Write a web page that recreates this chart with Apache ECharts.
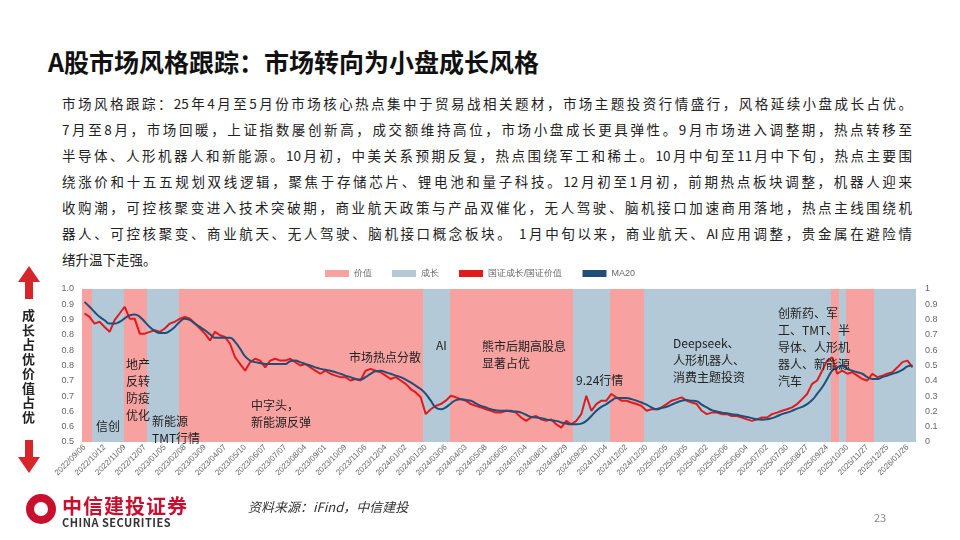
<!DOCTYPE html>
<html>
<head>
<meta charset="utf-8">
<script src="https://cdn.jsdelivr.net/npm/echarts@6/dist/echarts.min.js"></script>
<style>
  body { margin: 0; width: 960px; height: 540px; overflow: hidden; background: #fff;
         font-family: "Noto Sans CJK SC", sans-serif; position: relative; }
  .title { position: absolute; left: 48px; top: 43px; font-size: 25px; font-weight: bold; color: #111; }
  .para { position: absolute; left: 62px; top: 90px; width: 850px; font-size: 13.5px; color: #222; }
  .para div { height: 26px; line-height: 26px; text-align: justify; text-align-last: justify; }
  .para div.last { text-align-last: left; }
  #chart { position: absolute; left: 0; top: 0; width: 960px; height: 540px; }
  .up { position: absolute; left: 18px; top: 266px; width: 0; height: 0;
        border-left: 11px solid transparent; border-right: 11px solid transparent; border-bottom: 16px solid #d7262b; }
  .upbar { position: absolute; left: 25px; top: 281px; width: 8px; height: 18px; background: #d7262b; }
  .dnbar { position: absolute; left: 25px; top: 440px; width: 8px; height: 18px; background: #d7262b; }
  .dn { position: absolute; left: 18px; top: 457px; width: 0; height: 0;
        border-left: 11px solid transparent; border-right: 11px solid transparent; border-top: 16px solid #d7262b; }
  .vtxt { position: absolute; left: 22px; top: 308px; width: 14px; font-size: 13px; font-weight: bold;
          line-height: 14.5px; color: #222; word-break: break-all; }
  .logo { position: absolute; left: 26px; top: 494px; width: 30px; height: 30px; border-radius: 50%;
          background: #c8102e; }
  .logo::after { content: ""; position: absolute; left: 8px; top: 8px; width: 14px; height: 14px;
          border-radius: 50%; background: #fff; }
  .brand { position: absolute; left: 62px; top: 491px; font-size: 20px; font-weight: bold; color: #c8102e; letter-spacing: 1px; }
  .brand-en { position: absolute; left: 62px; top: 514px; font-size: 11px; font-weight: bold; color: #333; letter-spacing: 0.5px; }
  .src { position: absolute; left: 248px; top: 497px; font-size: 13px; font-style: italic; color: #333; }
  .page { position: absolute; left: 874px; top: 509px; font-size: 11px; color: #888; }
</style>
</head>
<body>
<div class="title">A股市场风格跟踪：市场转向为小盘成长风格</div>
<div class="para">
  <div>市场风格跟踪：25年4月至5月份市场核心热点集中于贸易战相关题材，市场主题投资行情盛行，风格延续小盘成长占优。</div>
  <div>7月至8月，市场回暖，上证指数屡创新高，成交额维持高位，市场小盘成长更具弹性。9月市场进入调整期，热点转移至</div>
  <div>半导体、人形机器人和新能源。10月初，中美关系预期反复，热点围绕军工和稀土。10月中旬至11月中下旬，热点主要围</div>
  <div>绕涨价和十五五规划双线逻辑，聚焦于存储芯片、锂电池和量子科技。12月初至1月初，前期热点板块调整，机器人迎来</div>
  <div>收购潮，可控核聚变进入技术突破期，商业航天政策与产品双催化，无人驾驶、脑机接口加速商用落地，热点主线围绕机</div>
  <div>器人、可控核聚变、商业航天、无人驾驶、脑机接口概念板块。 1月中旬以来，商业航天、AI应用调整，贵金属在避险情</div>
  <div class="last">绪升温下走强。</div>
</div>
<div id="chart"></div>
<div class="up"></div><div class="upbar"></div>
<div class="vtxt">成长占优 价值占优</div>
<div class="dnbar"></div><div class="dn"></div>
<div class="logo"></div>
<div class="brand">中信建投证券</div>
<div class="brand-en">CHINA SECURITIES</div>
<div class="src">资料来源：iFind，中信建投</div>
<div class="page">23</div>
<script>
// tick labels, one every 4 points (each point ~ 5 trading days)
const tickLabels = ["2022/09/06","2022/10/12","2022/11/09","2022/12/07","2023/01/05","2023/02/08","2023/03/09",
  "2023/04/07","2023/05/10","2023/06/07","2023/07/07","2023/08/04","2023/09/01","2023/10/09","2023/11/06",
  "2023/12/04","2024/01/02","2024/01/30","2024/03/06","2024/04/03","2024/05/08","2024/06/05","2024/07/04",
  "2024/08/01","2024/08/29","2024/09/30","2024/11/04","2024/12/02","2024/12/30","2025/02/05","2025/03/05",
  "2025/04/02","2025/05/06","2025/06/04","2025/07/02","2025/07/30","2025/08/27","2025/09/24","2025/10/30",
  "2025/11/27","2025/12/25","2026/01/26"];

// 国证成长/国证价值
const ratio = [
  .920,.909,.887,.893,.876,.860,.898,.920,.942,.903,
  .903,.854,.854,.860,.865,.860,.871,.887,.893,.903,
  .909,.903,.887,.871,.854,.832,.860,.849,.843,.821,
  .777,.755,.733,.761,.772,.766,.744,.766,.772,.766,
  .766,.772,.761,.750,.755,.744,.733,.723,.733,.723,
  .717,.712,.712,.701,.706,.701,.733,.739,.733,.728,
  .717,.706,.712,.701,.690,.673,.662,.646,.591,.607,
  .618,.624,.635,.651,.646,.640,.635,.624,.618,.613,
  .607,.602,.596,.596,.602,.602,.596,.580,.569,.580,
  .585,.574,.569,.574,.558,.547,.569,.558,.569,.591,
  .651,.602,.624,.635,.635,.657,.646,.635,.635,.629,
  .624,.618,.602,.607,.607,.613,.624,.635,.640,.646,
  .635,.629,.624,.602,.591,.596,.596,.591,.591,.585,
  .585,.580,.574,.569,.574,.580,.580,.591,.596,.602,
  .607,.613,.624,.640,.657,.690,.701,.733,.766,.777,
  .723,.733,.723,.728,.717,.706,.701,.723,.712,.717,
  .723,.728,.744,.761,.766,.744];

const ma20 = [
  .958,.942,.925,.909,.898,.887,.887,.893,.904,.914,
  .917,.909,.893,.876,.863,.856,.856,.863,.876,.893,
  .903,.898,.887,.876,.865,.852,.841,.841,.841,.841,
  .827,.805,.780,.766,.761,.758,.755,.755,.755,.755,
  .755,.764,.766,.761,.755,.750,.744,.739,.736,.733,
  .728,.723,.717,.712,.706,.704,.712,.723,.731,.733,
  .728,.723,.717,.712,.704,.695,.684,.673,.657,.635,
  .613,.607,.613,.626,.637,.640,.637,.635,.626,.618,
  .613,.607,.604,.602,.602,.600,.600,.596,.589,.582,
  .580,.578,.574,.571,.569,.564,.560,.558,.558,.560,
  .569,.585,.602,.615,.624,.635,.644,.644,.644,.640,
  .635,.629,.622,.613,.607,.611,.615,.622,.629,.635,
  .637,.635,.633,.622,.613,.604,.600,.596,.594,.591,
  .589,.585,.582,.578,.574,.573,.574,.578,.584,.591,
  .596,.602,.609,.615,.624,.637,.657,.679,.706,.733,
  .744,.750,.739,.733,.728,.723,.712,.706,.706,.712,
  .717,.723,.728,.736,.747,.750];

// style regime runs: [regime, number of points]
const regimeRuns = [["v",2],["g",6],["v",5],["g",6],["v",49],["g",5],["v",25],["g",7],
  ["v",7],["g",37],["v",2],["g",1],["v",6],["g",8]];

const categories = [];
for (let i = 0; i < ratio.length; i++) categories.push(i % 4 === 0 ? (tickLabels[i / 4] || "") : "");
const valueBand = [], growthBand = [];
let idx = 0;
regimeRuns.forEach(([r, n]) => {
  for (let k = 0; k < n; k++, idx++) (r === "v" ? valueBand : growthBand).push([idx, 1]);
});

const notes = [
  { text: "信创", x: 96, y: 418 },
  { text: "地产\n反转\n防疫\n优化", x: 126, y: 356 },
  { text: "新能源\nTMT行情", x: 152, y: 413 },
  { text: "中字头，\n新能源反弹", x: 251, y: 397 },
  { text: "市场热点分散", x: 349, y: 349 },
  { text: "AI", x: 436, y: 337 },
  { text: "熊市后期高股息\n显著占优", x: 482, y: 338 },
  { text: "9.24行情", x: 576, y: 372 },
  { text: "Deepseek、\n人形机器人、\n消费主题投资", x: 673, y: 335 },
  { text: "创新药、军\n工、TMT、半\n导体、人形机\n器人、新能源\n汽车", x: 778, y: 305 }
];

function bandItem(color) {
  return function (params, api) {
    const top = api.coord([api.value(0), api.value(1)]);
    const bot = api.coord([api.value(0), 0]);
    const w = api.size([1, 0])[0];
    return { type: "rect", shape: { x: Math.floor(top[0] - w / 2), y: top[1], width: Math.ceil(w) + 1, height: bot[1] - top[1] },
             style: { fill: color } };
  };
}

const chart = echarts.init(document.getElementById("chart"));
const axisText = { color: "#666", fontSize: 9, fontFamily: "Arial" };
chart.setOption({
  animation: false,
  legend: {
    top: 264, left: "center",
    itemWidth: 24, itemHeight: 7, itemGap: 20,
    textStyle: { color: "#666", fontSize: 9 },
    data: [
      { name: "价值", icon: "rect", itemStyle: { color: "#f7a1a1" } },
      { name: "成长", icon: "rect", itemStyle: { color: "#b3c9d7" } },
      { name: "国证成长/国证价值", icon: "rect", itemStyle: { color: "#e01b1e" } },
      { name: "MA20", icon: "rect", itemStyle: { color: "#1f4e79" } }
    ]
  },
  grid: { left: 82, right: 45, top: 289, bottom: 98 },
  xAxis: {
    type: "category", data: categories, boundaryGap: true,
    axisLine: { show: false }, axisTick: { show: false },
    axisLabel: { interval: 0, rotate: 45, color: "#666", fontSize: 8, fontFamily: "Arial", margin: 4 }
  },
  yAxis: [
    { type: "value", min: 0.5, max: 1.0, interval: 0.05, splitLine: { show: false },
      axisLabel: Object.assign({ formatter: v => v.toFixed(1), margin: 8 }, axisText) },
    { type: "value", min: 0, max: 1, interval: 0.1, splitLine: { show: false },
      axisLabel: Object.assign({ formatter: v => String(Math.round(v * 10) / 10), margin: 10 }, axisText) }
  ],
  series: [
    { name: "价值", type: "custom", yAxisIndex: 1, data: valueBand, renderItem: bandItem("#f7a1a1"),
      itemStyle: { color: "#f7a1a1" }, silent: true, z: 1 },
    { name: "成长", type: "custom", yAxisIndex: 1, data: growthBand, renderItem: bandItem("#b3c9d7"),
      itemStyle: { color: "#b3c9d7" }, silent: true, z: 1 },
    { name: "国证成长/国证价值", type: "line", data: ratio, symbol: "none", z: 3,
      lineStyle: { color: "#e01b1e", width: 2 }, itemStyle: { color: "#e01b1e" } },
    { name: "MA20", type: "line", data: ma20, symbol: "none", smooth: true, z: 4,
      lineStyle: { color: "#1f4e79", width: 2 }, itemStyle: { color: "#1f4e79" } }
  ],
  graphic: notes.map(n => ({
    type: "text", left: n.x, top: n.y, z: 100,
    style: { text: n.text, fill: "#222", fontSize: 12, lineHeight: 17, fontFamily: "Noto Sans CJK SC" }
  }))
});
</script>
</body>
</html>
